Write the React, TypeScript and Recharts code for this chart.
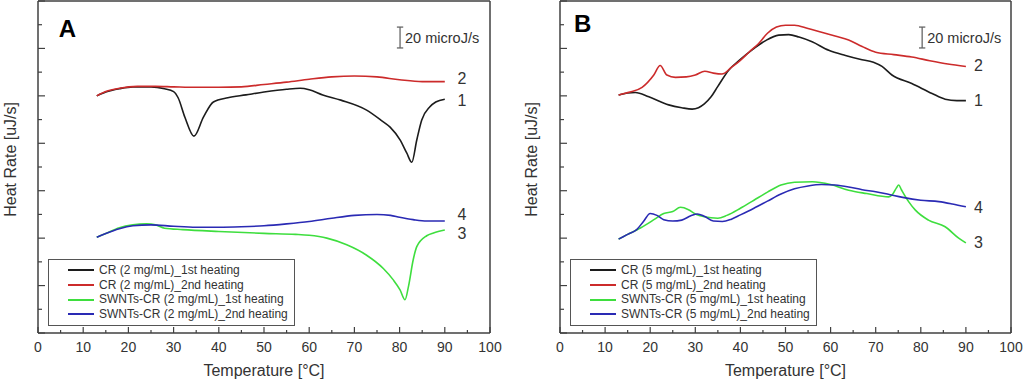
import React from 'react';
import { LineChart, Line, XAxis, YAxis, ReferenceLine, ReferenceDot, Legend } from 'recharts';

// ---------- axes ----------
const xTicks = [0, 5, 10, 15, 20, 25, 30, 35, 40, 45, 50, 55, 60, 65, 70, 75, 80, 85, 90, 95, 100];
const xLabelStep = 10;
const yTicks = [0, 5, 10, 15, 20, 25, 30, 35, 40, 45, 50, 55, 60, 65, 70];
const yMajorStep = 10;

const seriesColors = ['#1c1c1c', '#cc2b2b', '#3ede3e', '#2a2ab4'];
const namesA = [
  'CR (2 mg/mL)_1st heating',
  'CR (2 mg/mL)_2nd heating',
  'SWNTs-CR (2 mg/mL)_1st heating',
  'SWNTs-CR (2 mg/mL)_2nd heating',
];
const namesB = [
  'CR (5 mg/mL)_1st heating',
  'CR (5 mg/mL)_2nd heating',
  'SWNTs-CR (5 mg/mL)_1st heating',
  'SWNTs-CR (5 mg/mL)_2nd heating',
];
const curveLabels = ['1', '2', '3', '4'];

// ---------- panel A data ----------
const aT1 = [13, 15, 18, 21, 25, 28, 30, 31, 32.5, 34.5, 36.6, 38.8, 42, 46, 50, 55, 58, 60, 63, 67, 72.7, 76, 77.9, 80.1, 81.6, 82.7, 83.8, 84.9, 86.7, 88, 90];
const aV1 = [50.0, 50.8, 51.5, 51.9, 51.9, 51.5, 50.9, 49.6, 45.5, 41.5, 45.5, 48.7, 49.6, 50.2, 50.8, 51.4, 51.6, 51.3, 50.2, 49.1, 47.0, 44.8, 43.4, 40.7, 37.9, 36.0, 40.7, 44.9, 47.7, 48.7, 49.3];
const aT2 = [13, 15, 18, 22, 26, 30, 35, 40, 45, 50, 55, 60, 65, 70, 75, 80, 85, 90];
const aV2 = [50.0, 50.9, 51.6, 52.0, 52.0, 51.9, 51.8, 51.8, 51.9, 52.4, 52.9, 53.5, 54.0, 54.2, 54.0, 53.4, 53.0, 53.0];
const aT3 = [13, 15, 18, 21, 24, 26, 28, 32, 40, 50, 57, 60, 63.9, 68.3, 72.7, 76.4, 78.6, 80.1, 81.2, 82, 83, 83.8, 86, 87.5, 90];
const aV3 = [20.2, 21.0, 22.2, 22.8, 23.0, 22.8, 22.1, 21.8, 21.4, 21.0, 20.8, 20.6, 20.0, 18.6, 16.4, 13.6, 11.2, 9.1, 7.0, 10.0, 15.4, 18.2, 20.5, 21.1, 21.7];
const aT4 = [13, 15, 18, 21, 25, 30, 35, 40, 45, 50, 55, 60, 65, 70, 75, 78, 80, 83, 86, 90];
const aV4 = [20.2, 21.0, 22.0, 22.6, 22.8, 22.5, 22.3, 22.3, 22.4, 22.6, 23.0, 23.5, 24.2, 24.8, 25.0, 24.8, 24.4, 23.9, 23.6, 23.6];

// ---------- panel B data ----------
const bT1 = [13, 15, 16.7, 19.7, 24.1, 27, 29.3, 30.7, 32, 33.5, 35, 37.4, 40, 42.6, 45.5, 48.5, 50.7, 53, 55.9, 59.6, 63.3, 66.5, 69.5, 71.4, 73.6, 78, 82.5, 85.4, 88, 90];
const bV1 = [50.2, 50.6, 50.7, 49.8, 48.1, 47.5, 47.2, 47.5, 48.3, 49.8, 52.0, 55.4, 57.7, 59.7, 61.6, 62.8, 62.9, 62.4, 61.4, 59.6, 58.5, 57.7, 57.1, 56.2, 54.4, 52.6, 50.5, 49.3, 49.0, 49.0];
const bT2 = [13, 15.5, 18.2, 20.8, 22.2, 23.7, 25.6, 28, 30, 32.1, 34, 35.9, 38, 40, 42, 44, 46, 48, 50, 52, 55, 58, 61, 64, 67, 70, 74, 78, 82, 86, 90];
const bV2 = [50.2, 50.8, 51.8, 54.4, 56.4, 54.4, 53.9, 54.0, 54.4, 55.2, 54.8, 54.6, 56.0, 57.5, 59.3, 61.0, 63.2, 64.5, 64.9, 64.9, 64.2, 63.4, 62.6, 61.8, 60.4, 59.2, 58.7, 58.2, 57.4, 56.7, 56.2];
const bT3 = [13, 15, 17, 19, 21, 23, 25, 26.7, 28.5, 30, 32, 35, 37, 40, 43, 46, 49, 52, 56, 60, 64, 68, 72.9, 73.8, 74.6, 75.1, 75.7, 77.3, 78.8, 81.7, 85.4, 88.4, 90];
const bV3 = [19.8, 20.8, 21.7, 22.8, 24.0, 25.2, 25.6, 26.5, 26.0, 25.1, 24.5, 24.2, 24.8, 26.3, 28.0, 29.7, 31.2, 31.8, 31.9, 31.3, 30.1, 29.4, 28.7, 29.3, 30.6, 31.2, 30.2, 27.7, 25.9, 23.8, 22.4, 20.0, 19.0];
const bT4 = [13, 15, 17, 18.5, 20, 21.5, 23, 25, 27, 29, 30.5, 32, 34, 36, 38, 40, 43, 46, 49, 52, 55, 58, 61, 64, 67, 70, 73, 76, 80, 84, 87, 90];
const bV4 = [19.8, 20.8, 21.8, 23.5, 25.2, 24.8, 23.9, 23.6, 23.8, 24.7, 25.1, 24.6, 23.6, 23.5, 24.0, 24.9, 26.3, 27.8, 29.3, 30.4, 31.0, 31.3, 31.2, 30.8, 30.2, 29.8, 29.2, 28.6, 28.0, 27.7, 27.2, 26.6];

// label anchors (data coords) for the curve numbers
const aLabelX = [93.8, 93.8, 93.8, 93.8];
const aLabelY = [49.1, 53.8, 21.1, 25.1];
const bLabelX = [92.8, 92.8, 92.8, 92.8];
const bLabelY = [49.1, 56.5, 19.2, 26.6];

// scale bar: x, y bottom, y top (data coords), text
const scaleBarX = [80.1, 80.3];
const scaleBarY = [60.1, 64.5];
const scaleText = '20 microJ/s';

const zip = (t: number[], v: number[]) => t.map((tt, i) => ({ t: tt, v: v[i] }));

const AX = '#404040';
const TXT = '#333';
const FONT = '"Liberation Sans", Arial, sans-serif';

type PanelProps = {
  letter: string;
  letterX: number;
  letterY: number;
  series: { t: number; v: number }[][];
  names: string[];
  labelX: number[];
  labelY: number[];
  barX: number;
  margin: { top: number; left: number; right: number; bottom: number };
  legendLeft: number;
  titleX: number;
  titleY: number;
};

const isMajor = (v: number, step: number) => Math.abs(v / step - Math.round(v / step)) < 1e-6;

const BottomTick = (props: any) => {
  const { x, y, payload } = props;
  const major = isMajor(payload.value, xLabelStep);
  return (
    <g>
      <line x1={x} x2={x} y1={y} y2={y - (major ? 6 : 3)} stroke={AX} strokeWidth={1.2} />
      {major && (
        <text x={x} y={y + 9} dy="0.71em" textAnchor="middle" fontSize={14} fill={TXT}>
          {payload.value}
        </text>
      )}
    </g>
  );
};

const TopTick = (props: any) => {
  const { x, y, payload } = props;
  const major = isMajor(payload.value, xLabelStep);
  return <line x1={x} x2={x} y1={y} y2={y + (major ? 6 : 3)} stroke={AX} strokeWidth={1.2} />;
};

const LeftTick = (props: any) => {
  const { x, y, payload } = props;
  const major = isMajor(payload.value, yMajorStep);
  return <line x1={x} x2={x + (major ? 7 : 4)} y1={y} y2={y} stroke={AX} strokeWidth={1.2} />;
};

const renderLegend = (names: string[]) => () => (
  <div
    style={{
      border: '1px solid #555',
      background: '#fff',
      width: 245,
      height: 62,
      boxSizing: 'content-box',
      paddingTop: 3,
      fontFamily: FONT,
      fontSize: 12,
      color: TXT,
    }}
  >
    {names.map((n, i) => (
      <div key={n} style={{ display: 'flex', alignItems: 'center', height: 14.7, lineHeight: '14.7px' }}>
        <div style={{ width: 19 }} />
        <div style={{ width: 26, height: 2, background: seriesColors[i] }} />
        <div style={{ width: 5 }} />
        <span style={{ whiteSpace: 'nowrap' }}>{n}</span>
      </div>
    ))}
  </div>
);

function Panel(p: PanelProps) {
  const ax = { xAxisId: 'x', yAxisId: 'y' };
  const hx = 0.7;
  return (
    <LineChart width={512} height={382} margin={p.margin}>
      <XAxis xAxisId="x" type="number" dataKey="t" domain={[0, 100]} ticks={xTicks} interval={0}
        tickSize={0} tickMargin={0} tickLine={false} height={1}
        axisLine={{ stroke: AX, strokeWidth: 1.5 }} tick={<BottomTick />} allowDataOverflow />
      <XAxis xAxisId="xt" orientation="top" type="number" dataKey="t" domain={[0, 100]} ticks={xTicks} interval={0}
        tickSize={0} tickMargin={0} tickLine={false} height={1}
        axisLine={{ stroke: AX, strokeWidth: 1.5 }} tick={<TopTick />} />
      <YAxis yAxisId="y" type="number" domain={[0, 70]} ticks={yTicks} interval={0}
        tickSize={0} tickMargin={0} tickLine={false} width={1}
        axisLine={{ stroke: AX, strokeWidth: 1.5 }} tick={<LeftTick />} allowDataOverflow />
      <YAxis yAxisId="yr" orientation="right" type="number" domain={[0, 70]} tick={false} tickLine={false}
        width={1} axisLine={{ stroke: AX, strokeWidth: 1.5 }} />

      {p.series.map((d, i) => (
        <Line key={i} {...ax} data={d} dataKey="v" name={p.names[i]} type="monotone"
          stroke={seriesColors[i]} strokeWidth={1.6} dot={false} isAnimationActive={false} />
      ))}

      {p.series.map((_, i) => (
        <ReferenceDot key={'l' + i} {...ax} x={p.labelX[i]} y={p.labelY[i]} r={0} fill="none" stroke="none"
          label={{ value: curveLabels[i], position: 'center', fontSize: 16, fill: TXT }} />
      ))}

      <ReferenceDot {...ax} x={p.letterX} y={p.letterY} r={0} fill="none" stroke="none"
        label={{ value: p.letter, position: 'center', fontSize: 24, fontWeight: 'bold', fill: '#000' }} />

      <ReferenceLine {...ax} segment={[{ x: p.barX, y: scaleBarY[0] }, { x: p.barX, y: scaleBarY[1] }]}
        stroke="#666" strokeWidth={1.3} />
      <ReferenceLine {...ax} segment={[{ x: p.barX - hx, y: scaleBarY[0] }, { x: p.barX + hx, y: scaleBarY[0] }]}
        stroke="#666" strokeWidth={1.3} />
      <ReferenceLine {...ax} segment={[{ x: p.barX - hx, y: scaleBarY[1] }, { x: p.barX + hx, y: scaleBarY[1] }]}
        stroke="#666" strokeWidth={1.3} />
      <ReferenceDot {...ax} x={p.barX} y={(scaleBarY[0] + scaleBarY[1]) / 2} r={0} fill="none" stroke="none"
        label={{ value: scaleText, position: 'right', offset: 5, fontSize: 14.5, fill: TXT }} />

      <ReferenceDot {...ax} x={50} y={p.titleY} r={0} fill="none" stroke="none" ifOverflow="visible"
        label={{ value: 'Temperature [°C]', position: 'center', fontSize: 16, fill: TXT }} />
      <ReferenceDot {...ax} x={p.titleX} y={36.6} r={0} fill="none" stroke="none" ifOverflow="visible"
        label={{ value: 'Heat Rate [uJ/s]', position: 'center', fontSize: 16, fill: TXT, angle: -90 }} />

      <Legend layout="vertical" align="center" verticalAlign="middle" content={renderLegend(p.names)}
        wrapperStyle={{ position: 'absolute', left: p.legendLeft, top: 259, width: 247, height: 67 }} />
    </LineChart>
  );
}

export default function App() {
  const seriesA = [zip(aT1, aV1), zip(aT2, aV2), zip(aT3, aV3), zip(aT4, aV4)];
  const seriesB = [zip(bT1, bV1), zip(bT2, bV2), zip(bT3, bV3), zip(bT4, bV4)];
  return (
    <div style={{ position: 'absolute', left: 0, top: 0, width: 1024, height: 382, background: '#fff', fontFamily: FONT }}>
      <div style={{ position: 'absolute', left: 0, top: 0 }}>
        <Panel letter="A" letterX={6.5} letterY={64.2} series={seriesA} names={namesA}
          labelX={aLabelX} labelY={aLabelY} barX={scaleBarX[0]}
          margin={{ top: 0, left: 37, right: 21, bottom: 48 }} legendLeft={48}
          titleX={-6.2} titleY={-7.8} />
      </div>
      <div style={{ position: 'absolute', left: 512, top: 0 }}>
        <Panel letter="B" letterX={5.0} letterY={65.3} series={seriesB} names={namesB}
          labelX={bLabelX} labelY={bLabelY} barX={scaleBarX[1]}
          margin={{ top: 0, left: 47, right: 12, bottom: 48 }} legendLeft={58}
          titleX={-6.4} titleY={-7.8} />
      </div>
    </div>
  );
}
